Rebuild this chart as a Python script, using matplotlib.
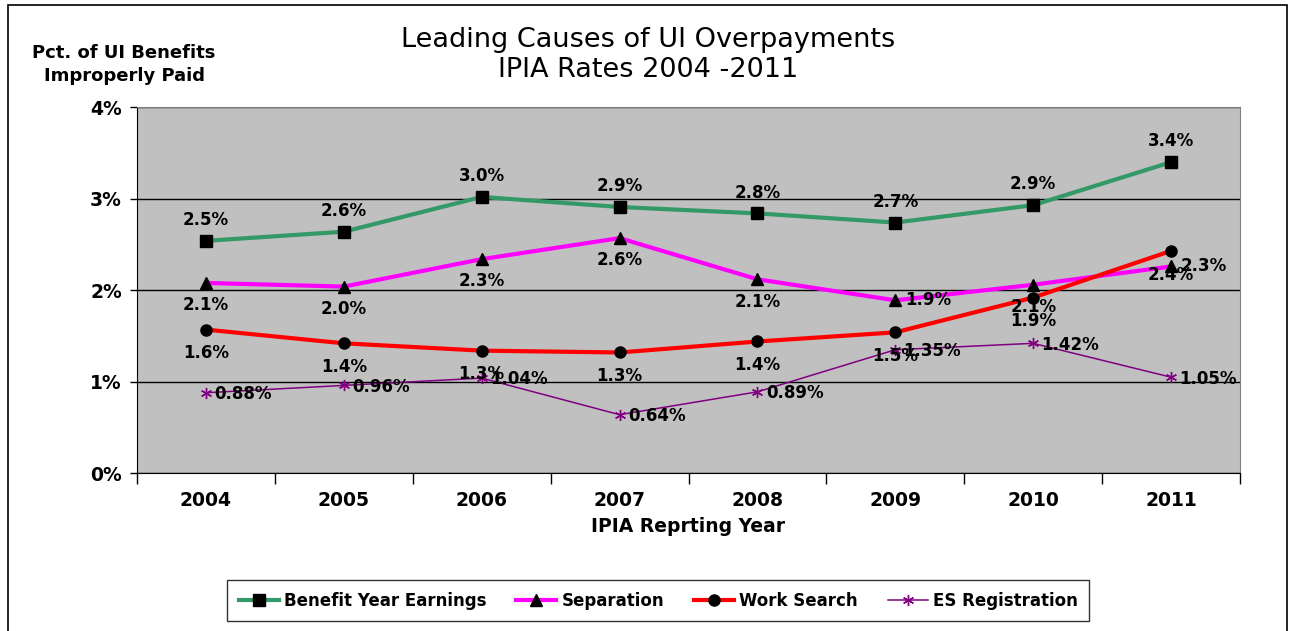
import matplotlib
matplotlib.use("Agg")
import matplotlib.pyplot as plt
from matplotlib.patches import Rectangle
from matplotlib.ticker import FixedLocator

# data (percent of UI benefits improperly paid)
years = ["2004", "2005", "2006", "2007", "2008", "2009", "2010", "2011"]
benefit_year = [2.54, 2.64, 3.02, 2.91, 2.84, 2.74, 2.93, 3.40]
separation = [2.08, 2.04, 2.34, 2.57, 2.12, 1.89, 2.06, 2.26]
work_search = [1.57, 1.42, 1.34, 1.32, 1.44, 1.54, 1.92, 2.43]
es_registration = [0.88, 0.96, 1.04, 0.64, 0.89, 1.35, 1.42, 1.05]

x = list(range(len(years)))

fig = plt.figure(figsize=(12.93, 6.31), dpi=100)
fig.patch.set_facecolor("white")
# outer frame
fig.add_artist(Rectangle((0.006, -0.01), 0.989, 1.002, transform=fig.transFigure,
                         fill=False, edgecolor="black", linewidth=1.2))

ax = fig.add_axes([0.106, 0.250, 0.853, 0.580])
ax.set_facecolor("#C0C0C0")

ax.plot(x, benefit_year, color="#339966", lw=3, marker="s", ms=8,
        mfc="black", mec="black", label="Benefit Year Earnings", zorder=4)
ax.plot(x, separation, color="#FF00FF", lw=3, marker="^", ms=9,
        mfc="black", mec="black", label="Separation", zorder=4)
ax.plot(x, work_search, color="#FF0000", lw=3, marker="o", ms=8,
        mfc="black", mec="black", label="Work Search", zorder=4)
ax.plot(x, es_registration, color="#800080", lw=1.1, marker=(6, 2, 0), ms=8,
        mfc="#800080", mec="#800080", mew=1, label="ES Registration", zorder=4)

lab_font = dict(fontsize=12, fontweight="bold", color="black", zorder=5)

# data labels
for i, v in enumerate(benefit_year):
    ax.annotate(f"{v:.1f}%", (i, v), xytext=(0, 15), textcoords="offset points",
                ha="center", va="center", **lab_font)
for i, v in enumerate(separation):
    if years[i] in ("2009", "2011"):
        ax.annotate(f"{v:.1f}%", (i, v), xytext=(7, 0), textcoords="offset points",
                    ha="left", va="center", **lab_font)
    else:
        ax.annotate(f"{v:.1f}%", (i, v), xytext=(0, -16), textcoords="offset points",
                    ha="center", va="center", **lab_font)
for i, v in enumerate(work_search):
    ax.annotate(f"{v:.1f}%", (i, v), xytext=(0, -17), textcoords="offset points",
                ha="center", va="center", **lab_font)
for i, v in enumerate(es_registration):
    ax.annotate(f"{v:.2f}%", (i, v), xytext=(6, -1), textcoords="offset points",
                ha="left", va="center", **lab_font)

ax.set_xlim(-0.5, len(years) - 0.5)
ax.set_ylim(0, 4)
ax.set_yticks([0, 1, 2, 3, 4])
ax.set_yticklabels(["0%", "1%", "2%", "3%", "4%"], fontsize=13.5, fontweight="bold")
ax.yaxis.grid(True, color="black", lw=1)
ax.set_axisbelow(True)

ax.set_xticks(x)
ax.set_xticklabels(years, fontsize=13.5, fontweight="bold")
ax.tick_params(axis="x", which="major", length=0, pad=13)
ax.xaxis.set_minor_locator(FixedLocator([i - 0.5 for i in range(len(years) + 1)]))
ax.tick_params(axis="x", which="minor", length=8, width=1, direction="out")
ax.tick_params(axis="y", length=5, width=1, direction="out", pad=6)

for s in ["top", "right"]:
    ax.spines[s].set_color("#808080")
for s in ["left", "bottom"]:
    ax.spines[s].set_color("black")

ax.set_xlabel("IPIA Reprting Year", fontsize=13.5, fontweight="bold", labelpad=5)

fig.text(0.501, 0.913, "Leading Causes of UI Overpayments\nIPIA Rates 2004 -2011",
         ha="center", va="center", fontsize=19.5, linespacing=1.2)
fig.text(0.096, 0.898, "Pct. of UI Benefits\nImproperly Paid", ha="center", va="center",
         fontsize=13, fontweight="bold", linespacing=1.4)

leg = ax.legend(loc="center", bbox_to_anchor=(0.509, 0.048), bbox_transform=fig.transFigure,
                ncol=4, frameon=True, fancybox=False, edgecolor="black",
                prop={"family": ["Liberation Sans Narrow", "DejaVu Sans"], "weight": "bold", "size": 12},
                handlelength=2.4, columnspacing=1.8, handletextpad=0.3, borderpad=0.7)
leg.get_frame().set_linewidth(1)

fig.savefig("out.png", dpi=100)
